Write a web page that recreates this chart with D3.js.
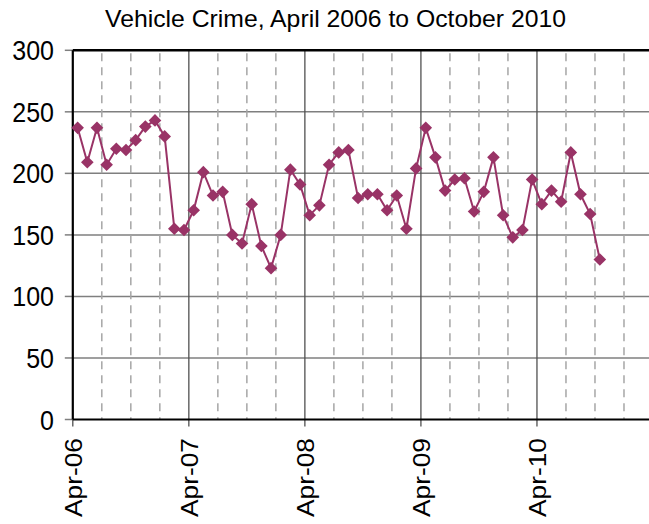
<!DOCTYPE html>
<html>
<head>
<meta charset="utf-8">
<script src="https://cdn.jsdelivr.net/npm/d3@7"></script>
<style>
  body { margin: 0; background: #fff; }
  text { font-family: "Liberation Sans", Arial, sans-serif; fill: #000; }
</style>
</head>
<body>
<div id="chart"></div>
<script>
// monthly counts, Apr 2006 .. Oct 2010
var months = ["Apr-06","May-06","Jun-06","Jul-06","Aug-06","Sep-06","Oct-06","Nov-06","Dec-06","Jan-07","Feb-07","Mar-07",
              "Apr-07","May-07","Jun-07","Jul-07","Aug-07","Sep-07","Oct-07","Nov-07","Dec-07","Jan-08","Feb-08","Mar-08",
              "Apr-08","May-08","Jun-08","Jul-08","Aug-08","Sep-08","Oct-08","Nov-08","Dec-08","Jan-09","Feb-09","Mar-09",
              "Apr-09","May-09","Jun-09","Jul-09","Aug-09","Sep-09","Oct-09","Nov-09","Dec-09","Jan-10","Feb-10","Mar-10",
              "Apr-10","May-10","Jun-10","Jul-10","Aug-10","Sep-10","Oct-10"];
var crimes = [237, 209, 237, 207, 220, 219, 227, 238, 243, 230, 155, 154,
              170, 201, 182, 185, 150, 143, 175, 141, 123, 150, 203, 191,
              166, 174, 207, 217, 219, 180, 183, 183, 170, 182, 155, 204,
              237, 213, 186, 195, 196, 169, 185, 213, 166, 148, 154, 195,
              175, 186, 177, 217, 183, 167, 130];
var yTicks = [0, 50, 100, 150, 200, 250, 300];
var yearLabels = ["Apr-06", "Apr-07", "Apr-08", "Apr-09", "Apr-10"];

function draw_vehicle_chart()
{
  var W = 649, H = 524;
  var pLeft = 72.8, pRight = 653, pTop = 50.3, pBottom = 419.5;
  var nSlots = 60;

  var svg = d3.select("#chart").append("svg")
      .attr("width", W)
      .attr("height", H);

  var x = d3.scaleLinear().domain([0, nSlots]).range([pLeft, pRight]);
  var y = d3.scaleLinear().domain([0, 300]).range([pBottom, pTop]);

  // title
  svg.append("text")
      .attr("x", 335.5)
      .attr("y", 26.5)
      .attr("text-anchor", "middle")
      .attr("font-size", 24)
      .attr("textLength", 461)
      .attr("lengthAdjust", "spacingAndGlyphs")
      .text("Vehicle Crime, April 2006 to October 2010");

  // horizontal gridlines
  svg.selectAll("line.hgrid")
      .data(yTicks.filter(function(d) { return d > 0 && d < 300; }))
      .enter().append("line")
      .attr("class", "hgrid")
      .attr("x1", pLeft).attr("x2", pRight)
      .attr("y1", function(d) { return y(d); })
      .attr("y2", function(d) { return y(d); })
      .attr("stroke", "#7f7f7f")
      .attr("stroke-width", 1.5);

  // quarter lines (dashed) and year lines (solid)
  var quarters = d3.range(3, nSlots, 3).filter(function(d) { return d % 12 != 0; });
  var years = d3.range(12, nSlots, 12);

  svg.selectAll("line.qgrid")
      .data(quarters)
      .enter().append("line")
      .attr("class", "qgrid")
      .attr("x1", function(d) { return x(d); })
      .attr("x2", function(d) { return x(d); })
      .attr("y1", pTop + 3).attr("y2", pBottom)
      .attr("stroke", "#a6a6a6")
      .attr("stroke-width", 1.5)
      .attr("stroke-dasharray", "8,6");

  svg.selectAll("line.ygrid")
      .data(years)
      .enter().append("line")
      .attr("class", "ygrid")
      .attr("x1", function(d) { return x(d); })
      .attr("x2", function(d) { return x(d); })
      .attr("y1", pTop).attr("y2", pBottom + 7)
      .attr("stroke", "#505050")
      .attr("stroke-width", 1.3);

  // tick at first year below axis
  svg.append("line")
      .attr("x1", x(0)).attr("x2", x(0))
      .attr("y1", pBottom).attr("y2", pBottom + 7)
      .attr("stroke", "#505050")
      .attr("stroke-width", 1.3);

  // y ticks
  svg.selectAll("line.ytick")
      .data(yTicks)
      .enter().append("line")
      .attr("class", "ytick")
      .attr("x1", pLeft - 8).attr("x2", pLeft)
      .attr("y1", function(d) { return y(d); })
      .attr("y2", function(d) { return y(d); })
      .attr("stroke", "#7f7f7f")
      .attr("stroke-width", 1.5);

  // frame: top, left, bottom
  svg.append("line")
      .attr("x1", pLeft).attr("x2", pRight)
      .attr("y1", pTop).attr("y2", pTop)
      .attr("stroke", "#000").attr("stroke-width", 2.5);
  svg.append("line")
      .attr("x1", pLeft).attr("x2", pLeft)
      .attr("y1", pTop).attr("y2", pBottom)
      .attr("stroke", "#000").attr("stroke-width", 2.2);
  svg.append("line")
      .attr("x1", pLeft).attr("x2", pRight)
      .attr("y1", pBottom).attr("y2", pBottom)
      .attr("stroke", "#000").attr("stroke-width", 2.2);

  // y labels
  svg.selectAll("text.ylab")
      .data(yTicks)
      .enter().append("text")
      .attr("class", "ylab")
      .attr("x", 54)
      .attr("y", function(d) { return y(d) + 10; })
      .attr("text-anchor", "end")
      .attr("font-size", 28)
      .attr("textLength", function(d) { return String(d).length * 13.9; })
      .attr("lengthAdjust", "spacingAndGlyphs")
      .text(function(d) { return d; });

  // x labels (rotated)
  svg.selectAll("text.xlab")
      .data(yearLabels)
      .enter().append("text")
      .attr("class", "xlab")
      .attr("text-anchor", "end")
      .attr("font-size", 24)
      .attr("textLength", 79)
      .attr("lengthAdjust", "spacingAndGlyphs")
      .attr("transform", function(d, i) {
        return "translate(" + (x(i * 12) + 9.5) + "," + (pBottom + 18.5) + ") rotate(-90)";
      })
      .text(function(d) { return d; });

  // series
  var line = d3.line()
      .x(function(d, i) { return x(i + 0.5); })
      .y(function(d) { return y(d); });

  svg.append("path")
      .datum(crimes)
      .attr("d", line)
      .attr("fill", "none")
      .attr("stroke", "#993366")
      .attr("stroke-width", 2);

  var marker = d3.symbol().type(d3.symbolSquare).size(80);
  svg.selectAll("path.pt")
      .data(crimes)
      .enter().append("path")
      .attr("class", "pt")
      .attr("d", marker)
      .attr("transform", function(d, i) {
        return "translate(" + x(i + 0.5) + "," + y(d) + ") rotate(45)";
      })
      .attr("fill", "#993366");
}

draw_vehicle_chart();
</script>
</body>
</html>
